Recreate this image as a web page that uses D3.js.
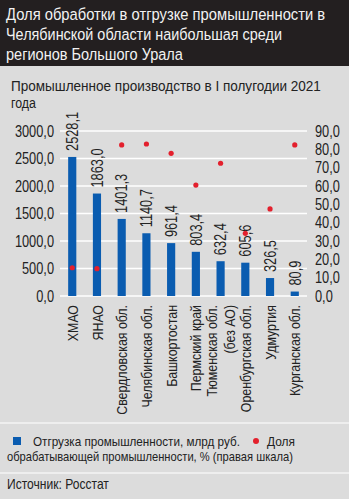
<!DOCTYPE html>
<html><head><meta charset="utf-8">
<script src="https://cdn.jsdelivr.net/npm/d3@7"></script>
<style>
body{margin:0;padding:0;background:#dcdcdc;}
svg{display:block;}
text{font-family:"Liberation Sans","Arial",sans-serif;}
</style></head>
<body>
<svg id="c" width="349" height="499"></svg>
<script>
const categories = ["ХМАО","ЯНАО","Свердловская обл.","Челябинская обл.","Башкортостан","Пермский край","Тюменская обл.|(без АО)","Оренбургская обл.","Удмуртия","Курганская обл."];
const shipment = [2528.1,1863.0,1401.3,1140.7,961.4,803.4,632.4,605.6,326.5,80.9];
const manufShare = [15.4,14.9,82.4,82.9,77.8,60.5,72.4,34.2,47.5,82.4];
const leftTicks = [0,500,1000,1500,2000,2500,3000];
const rightTicks = [0,10,20,30,40,50,60,70,80,90];
const fmt = v => d3.format(".1f")(v).replace(".", ",");

const K = 0.8; // condensed factor
const svg = d3.select("#c");

// horizontal text placed via transform, squeezed to width w (or by factor K)
function htext(x, y, size, fill, str, w){
  const t = svg.append("text").attr("font-size",size).attr("fill",fill).text(str);
  const nat = t.node().getComputedTextLength();
  const sx = w ? w/nat : K;
  t.attr("transform",`translate(${x},${y}) scale(${sx},1)`);
  return t;
}

svg.append("rect").attr("width",349).attr("height",499).attr("fill","#dcdcdc");
svg.append("rect").attr("width",349).attr("height",66).attr("fill","#231f20");
const title = ["Доля обработки в отгрузке промышленности в","Челябинской области наибольшая среди","регионов Большого Урала"];
const titleW = [319,276,177];
title.forEach((t,i)=>htext(6,19.5+i*20,17.2,"#f2f2f2",t,titleW[i]));
htext(11,90.5,15.5,"#222","Промышленное производство в I полугодии 2021",310);
htext(11,107.5,15.5,"#222","года");

const x = d3.scaleBand().domain(categories).range([60,307]).paddingInner(0.67).paddingOuter(0.33);
const yL = d3.scaleLinear().domain([0,3000]).range([296,131]);
const yR = d3.scaleLinear().domain([0,90]).range([296,131]);

// grid
svg.append("g").selectAll("line").data(leftTicks).join("line")
  .attr("x1",60).attr("x2",307).attr("y1",d=>yL(d)).attr("y2",d=>yL(d))
  .attr("stroke","#fff").attr("stroke-width",1.5);

// left axis
const gL = svg.append("g").attr("transform","translate(54,0)")
  .call(d3.axisLeft(yL).tickValues(leftTicks).tickFormat(fmt).tickSize(0).tickPadding(0));
gL.select(".domain").remove();
gL.selectAll("text").attr("font-size",16).attr("fill","#222").attr("font-family",null)
  .attr("x",0).attr("transform",`scale(${K},1)`);
// right axis
const gR = svg.append("g").attr("transform","translate(315,0)")
  .call(d3.axisRight(yR).tickValues(rightTicks).tickFormat(fmt).tickSize(0).tickPadding(0));
gR.select(".domain").remove();
gR.selectAll("text").attr("font-size",16).attr("fill","#222").attr("font-family",null)
  .attr("x",0).attr("transform",`scale(${K},1)`);

// bars
svg.append("g").selectAll("rect").data(shipment).join("rect")
  .attr("x",(d,i)=>x(categories[i])).attr("width",x.bandwidth())
  .attr("y",d=>yL(d)).attr("height",d=>yL(0)-yL(d)).attr("fill","#0a5cb0");

// value labels
svg.append("g").selectAll("text").data(shipment).join("text")
  .attr("transform",(d,i)=>`translate(${x(categories[i])+x.bandwidth()/2},${yL(d)-6}) rotate(-90) scale(${K},1)`)
  .attr("dy","0.36em").attr("font-size",16).attr("fill","#222").text(d=>fmt(d));

// dots
svg.append("g").selectAll("circle").data(manufShare).join("circle")
  .attr("cx",(d,i)=>x(categories[i])+x.bandwidth()/2).attr("cy",d=>yR(d)).attr("r",2.6).attr("fill","#e3202d");

// category labels
const cl = svg.append("g").selectAll("text").data(categories).join("text")
  .attr("transform",d=>`translate(${x(d)+x.bandwidth()/2},305) rotate(-90) scale(${K},1)`)
  .attr("text-anchor","end").attr("font-size",15.5).attr("fill","#222");
cl.each(function(d){
  const parts = d.split("|");
  const el = d3.select(this);
  if(parts.length===1){ el.append("tspan").attr("x",0).attr("dy","0.36em").text(parts[0]); }
  else { el.append("tspan").attr("x",0).attr("dy","-0.25em").text(parts[0]);
         el.append("tspan").attr("x",0).attr("dy","1.2em").text(parts[1]); }
});

// separators
svg.append("line").attr("x1",0).attr("x2",349).attr("y1",423).attr("y2",423).attr("stroke","#fff").attr("stroke-width",1.2);
svg.append("line").attr("x1",0).attr("x2",349).attr("y1",473).attr("y2",473).attr("stroke","#fff").attr("stroke-width",1.2);

// legend
svg.append("rect").attr("x",13).attr("y",437).attr("width",8).attr("height",8).attr("fill","#0a5cb0");
htext(33,446,13.4,"#222","Отгрузка промышленности, млрд руб.",207);
svg.append("circle").attr("cx",256).attr("cy",441).attr("r",3).attr("fill","#e3202d");
htext(267,446,13.4,"#222","Доля",28);
htext(7,461,13.4,"#222","обрабатывающей промышленности, % (правая шкала)",286);
htext(7,489,13.8,"#222","Источник: Росстат",102);
</script>
</body></html>
